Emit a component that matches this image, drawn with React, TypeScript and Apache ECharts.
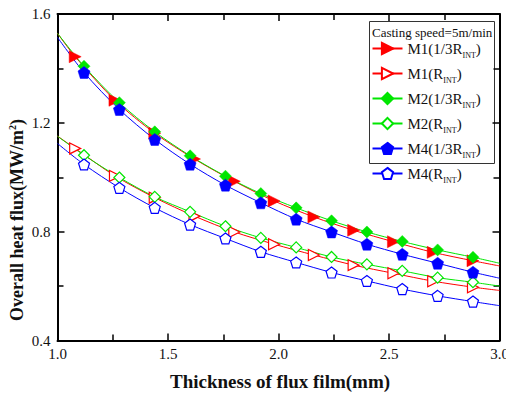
import React, { useEffect, useRef } from 'react';
import * as echarts from 'echarts';

// x positions (mm); first and last are the line ends (no marker)
const xM1 = [1.0, 1.08, 1.26, 1.44, 1.62, 1.8, 1.98, 2.16, 2.34, 2.52, 2.7, 2.88, 3.0];
const xM2M4 = [1.0, 1.12, 1.28, 1.44, 1.6, 1.76, 1.92, 2.08, 2.24, 2.4, 2.56, 2.72, 2.88, 3.0];

const m1Third = [1.529, 1.443, 1.283, 1.162, 1.067, 0.985, 0.913, 0.854, 0.805, 0.763, 0.724, 0.693, 0.674];
const m1R = [1.151, 1.106, 1.005, 0.925, 0.857, 0.799, 0.754, 0.714, 0.677, 0.647, 0.618, 0.596, 0.584];
const m2Third = [1.529, 1.408, 1.274, 1.167, 1.079, 1.004, 0.94, 0.8875, 0.84, 0.799, 0.764, 0.733, 0.706, 0.684];
const m2R = [1.151, 1.081, 0.999, 0.928, 0.873, 0.82, 0.777, 0.742, 0.707, 0.68, 0.656, 0.631, 0.614, 0.6];
const m4Third = [1.514, 1.385, 1.249, 1.139, 1.048, 0.971, 0.906, 0.846, 0.799, 0.754, 0.717, 0.684, 0.651, 0.629];
const m4R = [1.124, 1.047, 0.961, 0.8875, 0.826, 0.775, 0.726, 0.687, 0.65, 0.619, 0.589, 0.564, 0.543, 0.528];

const seriesNames = ['M1(1/3R_INT)', 'M1(R_INT)', 'M2(1/3R_INT)', 'M2(R_INT)', 'M4(1/3R_INT)', 'M4(R_INT)'];
const xTicks = [1.0, 1.5, 2.0, 2.5, 3.0];
const yTicks = [0.4, 0.8, 1.2, 1.6];
const legendTitle = 'Casting speed=5m/min';
const xTitle = 'Thickness of flux film(mm)';

const FONT = 'Liberation Serif, Times New Roman, serif';
const PENTAGON = 'path://M0,-1 L0.951,-0.309 L0.588,0.809 L-0.588,0.809 L-0.951,-0.309 Z';

function mkData(xs: number[], ys: number[]) {
  return xs.map((x, i) =>
    i === 0 || i === xs.length - 1 ? { value: [x, ys[i]], symbol: 'none' } : { value: [x, ys[i]] }
  );
}

function mkSeries(name: string, xs: number[], ys: number[], color: string, symbol: string, filled: boolean, size: number, rotate = 0) {
  return {
    name,
    type: 'line',
    data: mkData(xs, ys),
    smooth: 0.3,
    symbol,
    symbolSize: size,
    symbolRotate: rotate,
    showAllSymbol: true,
    lineStyle: { color, width: 1 },
    itemStyle: filled
      ? { color, borderColor: color, borderWidth: 0.5 }
      : { color: '#ffffff', borderColor: color, borderWidth: 1.2 },
    emphasis: { disabled: true },
  };
}

export default function App() {
  const ref = useRef<HTMLDivElement>(null);
  useEffect(() => {
    if (!ref.current) return;
    const chart = echarts.init(ref.current, null, { renderer: 'svg' });
    const axisLine = { show: true, lineStyle: { color: '#000', width: 2 } };
    const axisTick = { show: true, inside: true, length: 7, lineStyle: { color: '#000', width: 1.5 } };
    const minorTick = { show: true, splitNumber: 2, length: 6, lineStyle: { color: '#000', width: 1.5 } };
    chart.setOption({
      animation: false,
      backgroundColor: '#fff',
      grid: { left: 57.5, right: 6.5, top: 14, bottom: 52.5, outerBoundsMode: 'none', containLabel: false },
      xAxis: [
        {
          type: 'value', min: 1, max: 3, interval: 0.5,
          axisLine, axisTick, minorTick,
          splitLine: { show: false },
          axisLabel: {
            color: '#111', fontFamily: FONT, fontSize: 15, margin: 6,
            formatter: (v: number) => (xTicks.includes(v) ? v.toFixed(1) : ''),
          },
        },
        {
          type: 'value', min: 1, max: 3, interval: 0.5, position: 'top',
          axisLine, axisTick, minorTick,
          splitLine: { show: false }, axisLabel: { show: false },
        },
      ],
      yAxis: [
        {
          type: 'value', min: 0.4, max: 1.6, interval: 0.4,
          axisLine, axisTick, minorTick,
          splitLine: { show: false },
          axisLabel: {
            color: '#111', fontFamily: FONT, fontSize: 15, margin: 7,
            formatter: (v: number) => (yTicks.some((t) => Math.abs(t - v) < 1e-6) ? v.toFixed(1) : ''),
          },
        },
        {
          type: 'value', min: 0.4, max: 1.6, interval: 0.4, position: 'right',
          axisLine, axisTick, minorTick,
          splitLine: { show: false }, axisLabel: { show: false },
        },
      ],
      legend: {
        orient: 'vertical',
        left: 371.5,
        top: 41,
        padding: 0,
        itemWidth: 30,
        itemHeight: 14,
        itemGap: 6.5,
        data: seriesNames,
        textStyle: {
          fontFamily: FONT, fontSize: 15, color: '#111',
          rich: {
            a: { fontFamily: FONT, fontSize: 15, color: '#111', lineHeight: 16 },
            s: { fontFamily: FONT, fontSize: 8, color: '#111', verticalAlign: 'bottom', lineHeight: 8, padding: [0, 0, -3, 0] },
          },
        },
        formatter: (name: string) => {
          const [pre] = name.split('_');
          return `{a|${pre}}{s|INT}{a|)}`;
        },
      },
      graphic: [
        {
          type: 'rect', z: 0,
          shape: { x: 369.5, y: 21.5, width: 125, height: 142 },
          style: { fill: '#fff', stroke: '#333', lineWidth: 1 },
        },
        {
          type: 'text', z: 10, x: 372, y: 32,
          style: { text: legendTitle, font: `13px ${FONT}`, fill: '#111', verticalAlign: 'middle' },
        },
        {
          type: 'text', z: 10, x: 280, y: 381,
          style: {
            text: xTitle, font: `bold 19px ${FONT}`, fill: '#111',
            align: 'center', verticalAlign: 'middle',
          },
        },
        {
          type: 'text', z: 10, x: 17, y: 220, rotation: Math.PI / 2,
          style: {
            text: '{t|Overall heat flux(MW/m}{p|2}{t|)}',
            align: 'center', verticalAlign: 'middle',
            rich: {
              t: { font: `bold 18px ${FONT}`, fill: '#111', lineHeight: 20 },
              p: { font: `bold 10px ${FONT}`, fill: '#111', verticalAlign: 'top', lineHeight: 10 },
            },
          },
        },
      ],
      series: [
        mkSeries(seriesNames[0], xM1, m1Third, '#ff0000', 'triangle', true, 12, -90),
        mkSeries(seriesNames[1], xM1, m1R, '#ff0000', 'triangle', false, 11, -90),
        mkSeries(seriesNames[2], xM2M4, m2Third, '#00e600', 'diamond', true, 12),
        mkSeries(seriesNames[3], xM2M4, m2R, '#00e600', 'diamond', false, 11),
        mkSeries(seriesNames[4], xM2M4, m4Third, '#0000ff', PENTAGON, true, 12),
        mkSeries(seriesNames[5], xM2M4, m4R, '#0000ff', PENTAGON, false, 11),
      ],
    });
    return () => chart.dispose();
  }, []);
  return <div ref={ref} style={{ width: 506, height: 393, position: 'absolute', left: 0, top: 0 }} />;
}
